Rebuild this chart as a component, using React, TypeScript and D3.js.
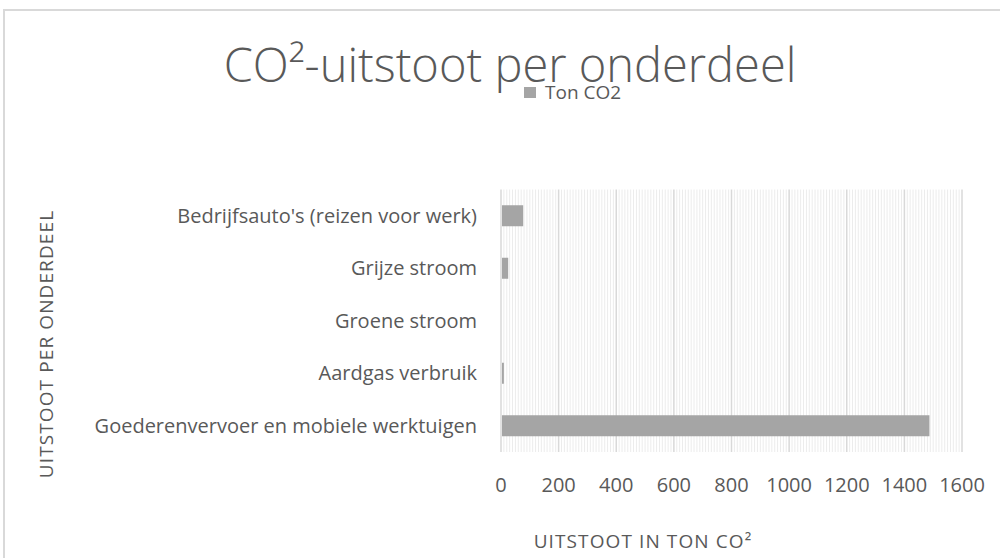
import * as d3 from "d3";
import { useRef, useEffect } from "react";

const categories = [
  "Bedrijfsauto's (reizen voor werk)",
  "Grijze stroom",
  "Groene stroom",
  "Aardgas verbruik",
  "Goederenvervoer en mobiele werktuigen",
];
const tonCO2 = [77, 25, 0, 10, 1487];
const xTicks = [0, 200, 400, 600, 800, 1000, 1200, 1400, 1600];

const App = () => {
  const svgRef = useRef<SVGSVGElement | null>(null);

  useEffect(() => {
    const totalWidth = 1000;
    const totalHeight = 558;
    const plot = { left: 501, right: 962, top: 189.5, bottom: 452 };
    const font = "'Open Sans', sans-serif";
    const textColor = "#595959";

    const svg = d3.select(svgRef.current);
    svg.selectAll("*").remove();
    svg.attr("width", totalWidth).attr("height", totalHeight);

    // outer chart border
    svg.append("rect")
      .attr("x", 4)
      .attr("y", 10)
      .attr("width", 1010)
      .attr("height", 560)
      .attr("fill", "#fff")
      .attr("stroke", "#d9d9d9")
      .attr("stroke-width", 2);

    const xScale = d3.scaleLinear()
      .domain([0, 1600])
      .range([plot.left, plot.right]);

    const yScale = d3.scaleBand()
      .domain(categories)
      .range([plot.top, plot.bottom])
      .paddingInner(0.6)
      .paddingOuter(0.3);

    // minor gridlines
    svg.append("g")
      .selectAll("line")
      .data(d3.range(10, 1600, 10).filter(v => v % 200 !== 0))
      .join("line")
      .attr("x1", d => xScale(d))
      .attr("x2", d => xScale(d))
      .attr("y1", plot.top)
      .attr("y2", plot.bottom)
      .attr("stroke", "#ececec")
      .attr("stroke-width", 1);

    // major gridlines
    svg.append("g")
      .selectAll("line")
      .data(xTicks)
      .join("line")
      .attr("x1", d => xScale(d))
      .attr("x2", d => xScale(d))
      .attr("y1", plot.top)
      .attr("y2", plot.bottom)
      .attr("stroke", "#d9d9d9")
      .attr("stroke-width", 1.5);

    // bars
    svg.append("g")
      .selectAll("rect")
      .data(categories)
      .join("rect")
      .attr("x", xScale(0) + 1)
      .attr("y", d => yScale(d)!)
      .attr("width", (d, i) => Math.max(0, xScale(tonCO2[i]) - xScale(0) - 1))
      .attr("height", yScale.bandwidth())
      .attr("fill", "#a5a5a5");

    // category labels
    svg.append("g")
      .selectAll("text")
      .data(categories)
      .join("text")
      .attr("x", 477)
      .attr("y", d => yScale(d)! + yScale.bandwidth() / 2)
      .attr("dy", "0.35em")
      .attr("text-anchor", "end")
      .attr("font-family", font)
      .attr("font-size", 20)
      .attr("fill", textColor)
      .text(d => d);

    // x tick labels
    svg.append("g")
      .selectAll("text")
      .data(xTicks)
      .join("text")
      .attr("x", d => xScale(d))
      .attr("y", 492)
      .attr("text-anchor", "middle")
      .attr("font-family", font)
      .attr("font-size", 20)
      .attr("fill", textColor)
      .text(d => d);

    // title (sits over the legend, as in the original)
    svg.append("text")
      .attr("x", 510)
      .attr("y", 82)
      .attr("text-anchor", "middle")
      .attr("font-family", font)
      .attr("font-size", 47)
      .attr("font-weight", 300)
      .attr("fill", textColor)
      .text("CO²-uitstoot per onderdeel");

    // legend
    svg.append("rect")
      .attr("x", 524)
      .attr("y", 87)
      .attr("width", 12)
      .attr("height", 11)
      .attr("fill", "#a5a5a5");
    svg.append("text")
      .attr("x", 545)
      .attr("y", 98.5)
      .attr("font-family", font)
      .attr("font-size", 19)
      .attr("fill", textColor)
      .text("Ton CO2");

    // axis titles
    svg.append("text")
      .attr("x", 643)
      .attr("y", 548)
      .attr("text-anchor", "middle")
      .attr("font-family", font)
      .attr("font-size", 19)
      .attr("letter-spacing", 1.1)
      .attr("fill", textColor)
      .text("UITSTOOT IN TON CO²");

    svg.append("text")
      .attr("transform", "translate(53,344) rotate(-90)")
      .attr("text-anchor", "middle")
      .attr("font-family", font)
      .attr("font-size", 19)
      .attr("letter-spacing", 1.1)
      .attr("fill", textColor)
      .text("UITSTOOT PER ONDERDEEL");
  }, []);

  return (
    <svg
      ref={svgRef}
      style={{ position: "absolute", left: 0, top: 0, background: "#fff" }}
    ></svg>
  );
};

export default App;
